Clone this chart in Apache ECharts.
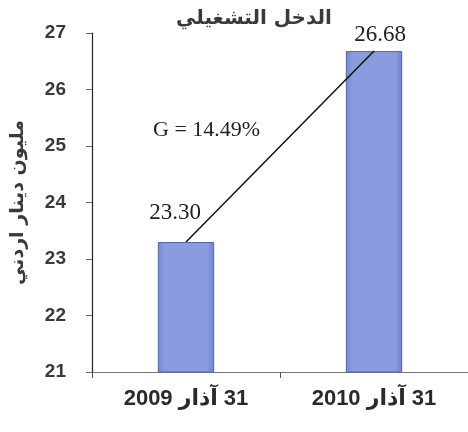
<!DOCTYPE html>
<html><head><meta charset="utf-8">
<script src="https://cdn.jsdelivr.net/npm/echarts@6/dist/echarts.min.js"></script>
<style>html,body{margin:0;padding:0;background:#fff}#c{width:468px;height:432px}</style>
</head><body><div id="c"></div>
<script>
var categories = ['31 آذار 2009', '31 آذار 2010'];
var values = [23.30, 26.68];
var valueLabels = ['23.30', '26.68'];
var growthText = 'G = 14.49%';
var titleText = 'الدخل التشغيلي';
var yName = 'مليون دينار اردني';

var RLM = '\u200F';
var chart = echarts.init(document.getElementById('c'));
chart.setOption({
  animation: false,
  backgroundColor: '#fff',
  title: {
    text: titleText, left: 249, top: 4, textAlign: 'center',
    textStyle: { fontFamily: 'DejaVu Sans', fontSize: 20, fontWeight: 'bold', color: '#3a3a3a' }
  },
  grid: { left: 92, right: 0, top: 33, bottom: 60, outerBoundsMode: 'none', containLabel: false },
  xAxis: {
    type: 'category', data: categories,
    axisLine: { lineStyle: { color: '#777', width: 1 } },
    axisTick: { show: true, length: 6, lineStyle: { color: '#555' } },
    axisLabel: {
      margin: 16, fontFamily: 'Liberation Sans, DejaVu Sans', fontSize: 22, fontWeight: 'bold', color: '#2a2a2a',
      formatter: function (v) { return RLM + v + RLM; }
    }
  },
  yAxis: {
    type: 'value', min: 21, max: 27, interval: 1,
    name: RLM + yName + RLM, nameLocation: 'middle', nameGap: 64, nameRotate: 90,
    nameTextStyle: { fontFamily: 'DejaVu Sans', fontSize: 19, fontWeight: 'bold', color: '#3a3a3a' },
    axisLine: { show: true, lineStyle: { color: '#222', width: 1.2 } },
    axisTick: { show: true, length: 6, lineStyle: { color: '#666' } },
    splitLine: { show: false },
    axisLabel: { margin: 26, fontFamily: 'Liberation Sans', fontSize: 19, fontWeight: 'bold', color: '#3a3a3a' }
  },
  graphic: [{
    type: 'text', left: 153, top: 119,
    style: { text: growthText, fontFamily: 'Liberation Serif', fontSize: 22, fill: '#222' }
  }],
  series: [{
    type: 'bar', barWidth: '30%',
    data: [
      { value: values[0], label: { distance: 18, offset: [-11, 0] } },
      { value: values[1], label: { distance: 5, offset: [6, 0] } }
    ],
    itemStyle: {
      color: new echarts.graphic.LinearGradient(0, 0, 1, 0, [
        { offset: 0, color: '#7486cf' }, { offset: 0.12, color: '#8a9ce0' },
        { offset: 0.88, color: '#8a9ce0' }, { offset: 1, color: '#6f80c8' }]),
      borderColor: '#5566a8', borderWidth: 1
    },
    label: {
      show: true, position: 'top',
      formatter: function (p) { return valueLabels[p.dataIndex]; },
      fontFamily: 'Liberation Serif', fontSize: 23, color: '#222'
    }
  }, {
    type: 'line', data: values, symbol: 'none', z: 5,
    lineStyle: { color: '#111', width: 1.5 }
  }]
});
</script></body></html>
